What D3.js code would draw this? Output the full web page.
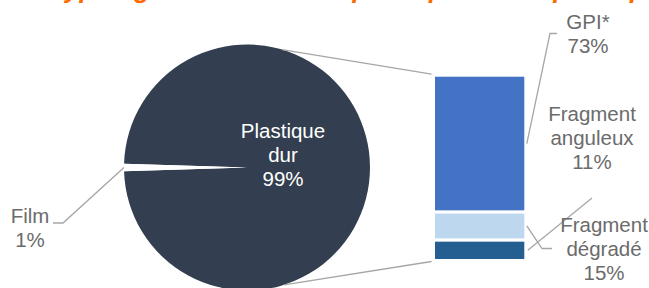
<!DOCTYPE html>
<html>
<head>
<meta charset="utf-8">
<script src="https://cdn.jsdelivr.net/npm/d3@7"></script>
<style>
  body { margin: 0; background: #fff; }
  text { font-family: 'Liberation Sans', Arial, sans-serif; }
</style>
</head>
<body>
<div id="root"></div>
<script>
// Data
const pieCategories = ['Plastique dur', 'Film'];
const pieValues = [99, 1];
const barCategories = ['Fragment anguleux', 'Fragment dégradé', 'GPI*'];
const barValues = [11, 15, 73];
const titleText = 'Typologie des déchets : plastique dur et plastique souple';

// Variables
const width = 649;
const height = 288;
const pieCx = 247;
const pieCy = 167.5;
const pieRadius = 123;
const barLeft = 433.5;
const barWidth = 92.3;
const barTop = 75.2;
const barBottom = 260.5;
const fontSize = 20.5;
const lineGap = 24;
const labelColor = '#6b6b6b';
const leaderColor = '#a6a6a6';

const pieColors = d3.scaleOrdinal().domain(pieCategories).range(['#333f50', '#ffffff']);
const barColors = d3.scaleOrdinal().domain(barCategories).range(['#255e91', '#bdd7ee', '#4472c4']);

const chart = d3.select('#root')
  .append('svg:svg')
  .attr('width', width)
  .attr('height', height);

// Title (mostly outside the frame, only descenders show)
chart.append('svg:text')
  .attr('x', 50)
  .attr('y', -2.5)
  .attr('fill', '#ff6a00')
  .style('font-size', '26px')
  .style('font-weight', 'bold')
  .style('font-style', 'italic')
  .text(titleText);

// Pie: Film slice centred on the left side
const filmShare = pieValues[1] / d3.sum(pieValues);
const startAngle = 1.5 * Math.PI - (1 - filmShare / 2) * 2 * Math.PI;
const pie = d3.pie().sort(null).startAngle(startAngle).endAngle(startAngle + 2 * Math.PI);
const arc = d3.arc().innerRadius(0).outerRadius(pieRadius);
const pieData = pie(pieValues);

const pieG = chart.append('svg:g').attr('transform', `translate(${pieCx},${pieCy})`);
pieG.selectAll('path')
  .data(pieData)
  .enter()
    .append('svg:path')
    .attr('d', arc)
    .attr('fill', (d, i) => pieColors(pieCategories[i]));

// Bar of pie
const y = d3.scaleLinear().domain([0, d3.sum(barValues)]).range([barBottom, barTop]);
const stacked = barValues.map((v, i) => ({
  name: barCategories[i],
  value: v,
  y0: d3.sum(barValues.slice(0, i)),
  y1: d3.sum(barValues.slice(0, i + 1))
}));

chart.append('svg:g')
  .selectAll('rect')
  .data(stacked)
  .enter()
    .append('svg:rect')
    .attr('x', barLeft)
    .attr('width', barWidth)
    .attr('y', d => y(d.y1))
    .attr('height', d => y(d.y0) - y(d.y1))
    .attr('fill', d => barColors(d.name))
    .attr('stroke', '#fff')
    .attr('stroke-width', 3);

// Connector lines pie -> bar
const topAngle = 16.5 * Math.PI / 180;
const botAngle = 162.5 * Math.PI / 180;
const edge = a => [pieCx + pieRadius * Math.sin(a), pieCy - pieRadius * Math.cos(a)];
const connectors = [
  [edge(topAngle), [barLeft - 2, y(d3.sum(barValues)) - 1]],
  [edge(botAngle), [barLeft - 2, y(0) + 1]]
];
chart.append('svg:g')
  .selectAll('line')
  .data(connectors)
  .enter()
    .append('svg:line')
    .attr('x1', d => d[0][0])
    .attr('y1', d => d[0][1])
    .attr('x2', d => d[1][0])
    .attr('y2', d => d[1][1])
    .attr('stroke', leaderColor)
    .attr('stroke-width', 1.3);

// Labels
const pct = v => v + '%';
const barRight = barLeft + barWidth;
const mid = d => y((d.y0 + d.y1) / 2);

const labels = [
  { lines: ['Plastique', 'dur', pct(pieValues[0])], x: 283, y: 138, fill: '#fff' },
  { lines: ['Film', pct(pieValues[1])], x: 30, y: 222.5, fill: labelColor,
    leader: [[53, 223], [63, 223], edge(1.5 * Math.PI)] },
  { lines: ['GPI*', pct(barValues[2])], x: 588, y: 29, fill: labelColor,
    leader: [[557, 33.5], [550, 33.5], [barRight + 1, mid(stacked[2])]] },
  { lines: ['Fragment', 'anguleux', pct(barValues[0])], x: 592, y: 121, fill: labelColor,
    leader: [[592, 198], [barRight + 2, mid(stacked[0])]] },
  { lines: ['Fragment', 'dégradé', pct(barValues[1])], x: 604, y: 232, fill: labelColor,
    leader: [[552, 248.5], [542, 248.5], [barRight + 1, mid(stacked[1])]] }
];

const line = d3.line();
chart.append('svg:g')
  .selectAll('path')
  .data(labels.filter(l => l.leader))
  .enter()
    .append('svg:path')
    .attr('d', d => line(d.leader))
    .attr('fill', 'none')
    .attr('stroke', leaderColor)
    .attr('stroke-width', 1.3);

const labelText = chart.append('svg:g')
  .selectAll('text')
  .data(labels)
  .enter()
    .append('svg:text')
    .attr('text-anchor', 'middle')
    .attr('fill', d => d.fill)
    .style('font-size', fontSize + 'px');

labelText.selectAll('tspan')
  .data(d => d.lines.map((t, i) => ({ t, x: d.x, y: d.y + i * lineGap })))
  .enter()
    .append('svg:tspan')
    .attr('x', d => d.x)
    .attr('y', d => d.y)
    .text(d => d.t);
</script>
</body>
</html>
